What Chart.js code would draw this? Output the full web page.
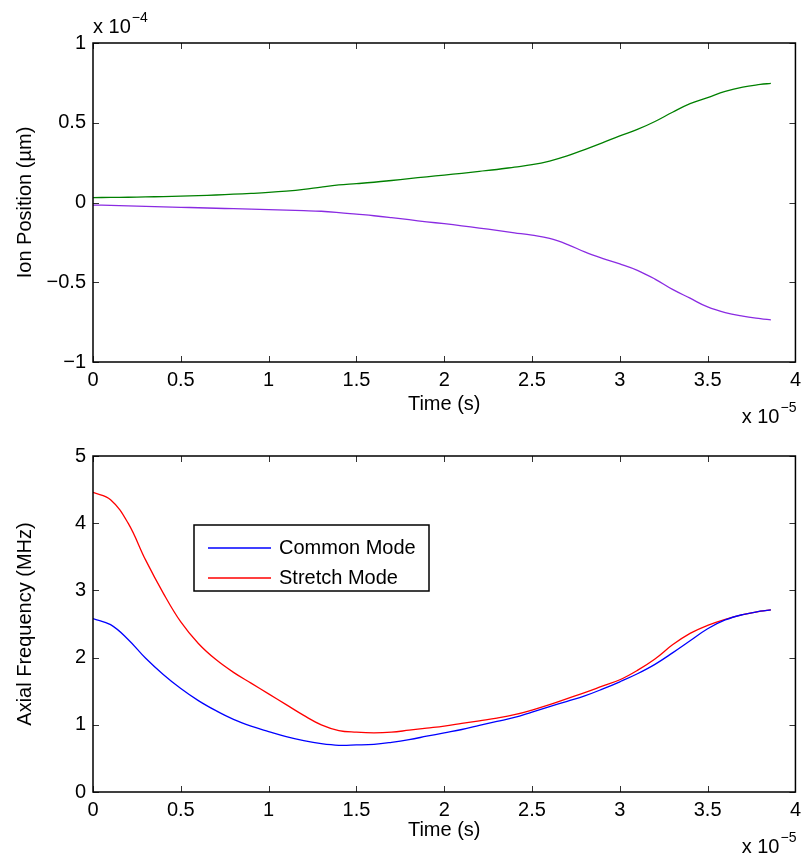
<!DOCTYPE html>
<html><head><meta charset="utf-8">
<script src="https://cdn.jsdelivr.net/npm/chart.js@4"></script>
<style>
html,body{margin:0;padding:0;background:#fff;}
#top{position:absolute;left:0;top:0;width:807px;height:430px;}
#bot{position:absolute;left:0;top:430px;width:807px;height:427px;}
</style></head><body>
<div id="top"><canvas id="c1"></canvas></div>
<div id="bot"><canvas id="c2"></canvas></div>
<script>
// Time in units of 1e-5 s
const time = [0,0.1,0.2,0.3,0.4,0.5,0.6,0.7,0.8,0.9,1.0,1.1,1.2,1.3,1.4,1.5,1.6,1.7,1.8,1.9,2.0,2.1,2.2,2.3,2.4,2.5,2.6,2.7,2.8,2.9,3.0,3.1,3.2,3.3,3.4,3.5,3.6,3.7,3.8,3.86];
// Ion positions in units of 1e-4 µm
const ionUpper = [0.031,0.032,0.033,0.035,0.037,0.040,0.043,0.047,0.052,0.057,0.063,0.071,0.082,0.097,0.110,0.118,0.127,0.138,0.150,0.161,0.172,0.183,0.195,0.207,0.222,0.237,0.260,0.292,0.332,0.374,0.418,0.458,0.508,0.566,0.620,0.658,0.697,0.724,0.740,0.747];
const ionLower = [-0.016,-0.018,-0.021,-0.024,-0.027,-0.030,-0.033,-0.036,-0.039,-0.042,-0.045,-0.048,-0.051,-0.055,-0.063,-0.073,-0.083,-0.095,-0.108,-0.121,-0.133,-0.146,-0.160,-0.175,-0.190,-0.205,-0.225,-0.262,-0.310,-0.350,-0.385,-0.425,-0.480,-0.545,-0.600,-0.655,-0.690,-0.712,-0.728,-0.736];
// Axial frequencies in MHz
const commonMode = [2.58,2.49,2.27,1.99,1.75,1.54,1.36,1.21,1.08,0.98,0.90,0.825,0.765,0.72,0.695,0.70,0.71,0.74,0.78,0.83,0.88,0.93,0.99,1.05,1.11,1.19,1.27,1.35,1.43,1.53,1.64,1.76,1.90,2.07,2.25,2.43,2.56,2.64,2.69,2.71];
const stretchMode = [4.46,4.35,4.00,3.45,2.96,2.53,2.21,1.97,1.78,1.62,1.46,1.30,1.14,1.00,0.915,0.89,0.88,0.89,0.92,0.95,0.98,1.02,1.06,1.10,1.15,1.22,1.30,1.39,1.48,1.575,1.67,1.81,1.98,2.19,2.36,2.48,2.57,2.64,2.69,2.71];
const timeTicks = [0,0.5,1,1.5,2,2.5,3,3.5,4];
const ionTicks = [-1,-0.5,0,0.5,1];
const freqTicks = [0,1,2,3,4,5];

const FONT = '"Liberation Sans", Arial, Helvetica, sans-serif';
const FS = 20;
Chart.defaults.font.family = FONT;
Chart.defaults.font.size = FS;
Chart.defaults.color = '#000';

function pts(ys){ return time.map((t,i)=>({x:t,y:ys[i]})); }
const fmt = v => String(v).replace('-', '\u2212');

const framePlugin = {
  id: 'frame',
  afterDraw(chart, args, opts){
    const ctx = chart.ctx, a = chart.chartArea;
    const xs = chart.scales.x, ys = chart.scales.y;
    ctx.save();
    ctx.strokeStyle = '#333';
    ctx.lineWidth = 1;
    ctx.beginPath();
    xs.ticks.forEach(t => {
      const p = Math.round(xs.getPixelForValue(t.value)) + 0.5;
      ctx.moveTo(p, a.bottom); ctx.lineTo(p, a.bottom - 6);
      ctx.moveTo(p, a.top); ctx.lineTo(p, a.top + 6);
    });
    ys.ticks.forEach(t => {
      const p = Math.round(ys.getPixelForValue(t.value)) + 0.5;
      ctx.moveTo(a.left, p); ctx.lineTo(a.left + 6, p);
      ctx.moveTo(a.right, p); ctx.lineTo(a.right - 6, p);
    });
    ctx.stroke();
    ctx.strokeStyle = '#000';
    ctx.lineWidth = 1.5;
    ctx.strokeRect(a.left, a.top, a.right - a.left, a.bottom - a.top);
    ctx.fillStyle = '#000';
    ctx.textBaseline = 'alphabetic';
    const drawExp = (x, y, exp, alignRight) => {
      ctx.font = FS + 'px ' + FONT;
      const base = 'x 10';
      const bw = ctx.measureText(base).width;
      ctx.font = '14px ' + FONT;
      const ew = ctx.measureText(exp).width;
      let x0 = alignRight ? x - bw - ew : x;
      ctx.font = FS + 'px ' + FONT;
      ctx.textAlign = 'left';
      ctx.fillText(base, x0, y);
      ctx.font = '14px ' + FONT;
      ctx.fillText(exp, x0 + bw + 1, y - 11);
    };
    if (opts.yExp) drawExp(a.left, a.top - 10, opts.yExp, false);
    if (opts.xExp) drawExp(a.right, a.bottom + 61, opts.xExp, true);
    if (opts.legend) {
      const lx = a.left + 101, ly = a.top + 69, lw = 235, lh = 66;
      ctx.fillStyle = '#fff';
      ctx.fillRect(lx, ly, lw, lh);
      ctx.strokeStyle = '#000';
      ctx.lineWidth = 1.5;
      ctx.strokeRect(lx, ly, lw, lh);
      chart.data.datasets.forEach((ds, i) => {
        const yy = ly + 23 + i * 30;
        ctx.strokeStyle = ds.borderColor;
        ctx.lineWidth = 1.3;
        ctx.beginPath();
        ctx.moveTo(lx + 14, yy); ctx.lineTo(lx + 77, yy);
        ctx.stroke();
        ctx.fillStyle = '#000';
        ctx.font = FS + 'px ' + FONT;
        ctx.textAlign = 'left';
        ctx.textBaseline = 'middle';
        ctx.fillText(ds.label, lx + 85, yy);
      });
    }
    ctx.restore();
  }
};

function makeChart(id, datasets, yTicks, yTitle, xH, padTop, yMin, yMax, frameOpts, xTitlePad) {
  return new Chart(document.getElementById(id), {
    type: 'line',
    data: { datasets },
    options: {
      responsive: true,
      maintainAspectRatio: false,
      animation: false,
      layout: { padding: { top: padTop, right: 10, left: 0, bottom: 0 } },
      plugins: { legend: { display: false }, tooltip: { enabled: false }, frame: frameOpts },
      elements: { point: { radius: 0 }, line: { borderWidth: 1.3, tension: 0.4 } },
      scales: {
        x: {
          type: 'linear', min: 0, max: 4,
          grid: { display: false, drawTicks: false },
          border: { display: false },
          afterBuildTicks: s => { s.ticks = timeTicks.map(v => ({ value: v })); },
          afterFit: s => { s.height = xH; },
          ticks: { padding: 6, autoSkip: false, maxRotation: 0, callback: fmt },
          title: { display: true, text: 'Time (s)', padding: xTitlePad, font: { size: FS } }
        },
        y: {
          type: 'linear', min: yMin, max: yMax,
          grid: { display: false, drawTicks: false },
          border: { display: false },
          afterBuildTicks: s => { s.ticks = yTicks.map(v => ({ value: v })); },
          afterFit: s => { s.width = 93; },
          ticks: { padding: 7, autoSkip: false, callback: fmt },
          title: { display: true, text: yTitle, padding: 13, font: { size: FS } }
        }
      }
    },
    plugins: [framePlugin]
  });
}

makeChart('c1', [
  { label: 'Ion 1', data: pts(ionUpper), borderColor: '#008000', fill: false },
  { label: 'Ion 2', data: pts(ionLower), borderColor: '#8a2be2', fill: false }
], ionTicks, 'Ion Position (\u00b5m)', 68, 43, -1, 1, { yExp: '\u22124', xExp: '\u22125' }, 14);

makeChart('c2', [
  { label: 'Common Mode', data: pts(commonMode), borderColor: '#0000ff', fill: false },
  { label: 'Stretch Mode', data: pts(stretchMode), borderColor: '#ff0000', fill: false }
], freqTicks, 'Axial Frequency (MHz)', 65, 26, 0, 5, { xExp: '\u22125', legend: true }, 15);
</script>
</body></html>
